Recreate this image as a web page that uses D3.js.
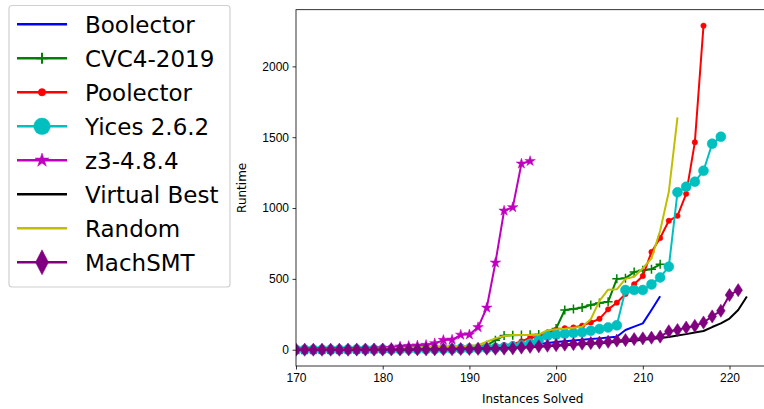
<!DOCTYPE html>
<html>
<head>
<meta charset="utf-8">
<script src="https://cdnjs.cloudflare.com/ajax/libs/d3/7.8.5/d3.min.js"></script>
<style>
body { margin: 0; background: #fff; }
svg { font-family: "DejaVu Sans", sans-serif; }
.tick text { font-size: 12px; fill: #000; }
.tick line, .domain { stroke: #000; stroke-width: 0.8px; }
.line { fill: none; stroke-width: 2px; stroke-linejoin: round; }
</style>
</head>
<body>
<div id="chart"></div>
<script>
// instance count at which every series starts
var startX = 170;

var boolector = [0, 0, 0, 0, 1, 1, 1, 2, 2, 2, 3,
    3, 4, 4, 5, 6, 7, 8, 10, 12, 14,
    18, 20, 22, 25, 28, 32, 36, 40, 47, 55,
    60, 65, 70, 75, 80, 86, 92, 139, 163, 186, 280, 377];
var cvc4 = [0, 0, 0, 0, 0, 0, 1, 1, 1, 2, 2,
    2, 3, 3, 4, 5, 6, 7, 8, 10, 13,
    18, 32, 66, 100, 102, 104, 105, 108, 115, 150,
    280, 288, 298, 315, 330, 338, 500, 505, 548, 560, 568, 603];
var poolector = [0, 0, 0, 0, 0, 0, 0, 1, 1, 1, 2,
    2, 3, 3, 4, 5, 6, 7, 9, 11, 13,
    16, 20, 26, 32, 40, 59, 85, 92, 118, 141,
    152, 157, 170, 192, 218, 285, 332, 393, 462, 520, 690, 788, 910, 945, 1100, 1464, 2287];
var yices = [0, 0, 0, 0, 0, 0, 1, 1, 1, 1, 2,
    2, 2, 3, 3, 4, 4, 5, 5, 6, 7,
    8, 10, 12, 16, 22, 30, 42, 68, 99, 106,
    113, 118, 123, 134, 146, 157, 172, 421, 421, 421, 461, 510, 586, 1111, 1150, 1186, 1263, 1454, 1503];
var z3 = [0, 0, 1, 1, 2, 2, 3, 3, 4, 6, 8,
    12, 22, 26, 29, 33, 45, 68, 70, 105, 107,
    158, 296, 614, 981, 1005, 1313, 1331];
var virtualBest = [0, 0, 0, 0, 0, 0, 0, 1, 1, 1, 1,
    2, 2, 2, 3, 3, 4, 4, 5, 6, 7,
    8, 9, 10, 12, 14, 16, 18, 21, 24, 28,
    32, 35, 38, 41, 45, 50, 55, 60, 64, 70,
    75, 82, 90, 100, 110, 122, 132, 160, 186, 220, 280, 376];
var random = [0, 1, 1, 2, 2, 3, 4, 5, 6, 7, 8,
    10, 12, 14, 16, 18, 20, 22, 24, 26, 28,
    32, 56, 80, 97, 104, 104, 104, 106, 138, 145,
    148, 155, 162, 215, 345, 424, 426, 500, 515, 575, 645, 840, 1115, 1640];
var machSMT = [0, 0, 0, 0, 0, 0, 0, 1, 1, 1, 1,
    2, 2, 2, 3, 3, 3, 4, 4, 5, 5,
    6, 7, 7, 8, 10, 15, 20, 24, 28, 32,
    36, 40, 43, 47, 50, 56, 64, 68, 75, 80,
    85, 92, 130, 139, 156, 168, 192, 235, 275, 386, 420];

var seriesNames = ["Boolector", "CVC4-2019", "Poolector", "Yices 2.6.2", "z3-4.8.4", "Virtual Best", "Random", "MachSMT"];
var xTicks = [170, 180, 190, 200, 210, 220];
var yTicks = [0, 500, 1000, 1500, 2000];

var series = [
    {name: seriesNames[0], values: boolector, color: "#0000ff", marker: null},
    {name: seriesNames[1], values: cvc4, color: "#008000", marker: "plus"},
    {name: seriesNames[2], values: poolector, color: "#ff0000", marker: "dot"},
    {name: seriesNames[3], values: yices, color: "#00bfbf", marker: "circle"},
    {name: seriesNames[4], values: z3, color: "#bf00bf", marker: "star"},
    {name: seriesNames[5], values: virtualBest, color: "#000000", marker: null},
    {name: seriesNames[6], values: random, color: "#bfbf00", marker: null},
    {name: seriesNames[7], values: machSMT, color: "#800080", marker: "diamond"}
];

var margin = {top: 9.7, left: 296};
var plotW = 473.4, plotH = 356.3;

var svg = d3.select("#chart").append("svg")
    .attr("width", 764)
    .attr("height", 409);

var x = d3.scaleLinear().domain([170, 224.6]).range([0, plotW]);
var y = d3.scaleLinear().domain([-115, 2400]).range([plotH, 0]);

svg.append("defs").append("clipPath").attr("id", "clip")
    .append("rect").attr("width", plotW).attr("height", plotH);

var g = svg.append("g")
    .attr("transform", "translate(" + margin.left + "," + margin.top + ")");

// marker path generator, sizes in px
function markerPath(type, big) {
    var k = big ? 1 : 0;
    if (type == "diamond") {
        var w = [4.3, 6.5][k], h = [6.6, 12.5][k];
        return "M0," + (-h) + "L" + w + ",0L0," + h + "L" + (-w) + ",0Z";
    }
    if (type == "plus") {
        var p = [4.5, 5.5][k];
        return "M" + (-p) + ",0H" + p + "M0," + (-p) + "V" + p;
    }
    if (type == "star") {
        return d3.symbol().type(d3.symbolStar).size([34, 60][k])();
    }
    var r = {dot: [2.7, 3.7], circle: [5, 8.3]}[type][k];
    return d3.symbol().type(d3.symbolCircle).size(Math.PI * r * r)();
}

var line = d3.line()
    .x(function(d, i) { return x(startX + i); })
    .y(function(d) { return y(d); });

var plot = g.append("g").attr("clip-path", "url(#clip)");

series.forEach(function(s) {
    plot.append("path")
        .attr("class", "line")
        .attr("stroke", s.color)
        .attr("d", line(s.values));
    if (s.marker) {
        plot.selectAll(null)
            .data(s.values).enter().append("path")
            .attr("transform", function(d, i) {
                return "translate(" + x(startX + i) + "," + y(d) + ")";
            })
            .attr("d", markerPath(s.marker, false))
            .attr("fill", s.marker == "plus" ? "none" : s.color)
            .attr("stroke", s.color)
            .attr("stroke-width", s.marker == "plus" ? 1.5 : 0.5);
    }
});

// axes
g.append("g")
    .attr("transform", "translate(0," + plotH + ")")
    .call(d3.axisBottom(x).tickValues(xTicks).tickSize(3.5).tickPadding(3.5));
g.append("g")
    .call(d3.axisLeft(y).tickValues(yTicks).tickFormat(d3.format("d")).tickSize(3.5).tickPadding(3.5));
g.selectAll(".domain").attr("d", null);
g.append("rect")
    .attr("width", plotW).attr("height", plotH)
    .attr("fill", "none").attr("stroke", "#000").attr("stroke-width", 0.8);

g.append("text")
    .attr("x", (plotW) / 2).attr("y", plotH + 37)
    .attr("text-anchor", "middle").attr("font-size", 12)
    .text("Instances Solved");
g.append("text")
    .attr("transform", "translate(" + (-50) + "," + (plotH / 2) + ") rotate(-90)")
    .attr("text-anchor", "middle").attr("font-size", 12)
    .text("Runtime");

// legend
var legend = svg.append("g");
legend.append("rect")
    .attr("x", 9).attr("y", 5.5).attr("width", 221).attr("height", 281.5)
    .attr("rx", 3).attr("fill", "#fff").attr("stroke", "#d0d0d0").attr("stroke-width", 1.2);
var item = legend.selectAll(".item")
    .data(series).enter().append("g")
    .attr("transform", function(d, i) { return "translate(0," + (24.3 + i * 34) + ")"; });
item.append("line")
    .attr("x1", 17).attr("x2", 67)
    .attr("stroke", function(d) { return d.color; })
    .attr("stroke-width", 2.6);
item.filter(function(d) { return d.marker; }).append("path")
    .attr("transform", "translate(42,0)")
    .attr("d", function(d) { return markerPath(d.marker, true); })
    .attr("fill", function(d) { return d.marker == "plus" ? "none" : d.color; })
    .attr("stroke", function(d) { return d.color; })
    .attr("stroke-width", function(d) { return d.marker == "plus" ? 2 : 0.5; });
item.append("text")
    .attr("x", 85).attr("dy", "0.36em")
    .attr("font-size", 23)
    .text(function(d) { return d.name; });
</script>
</body>
</html>
